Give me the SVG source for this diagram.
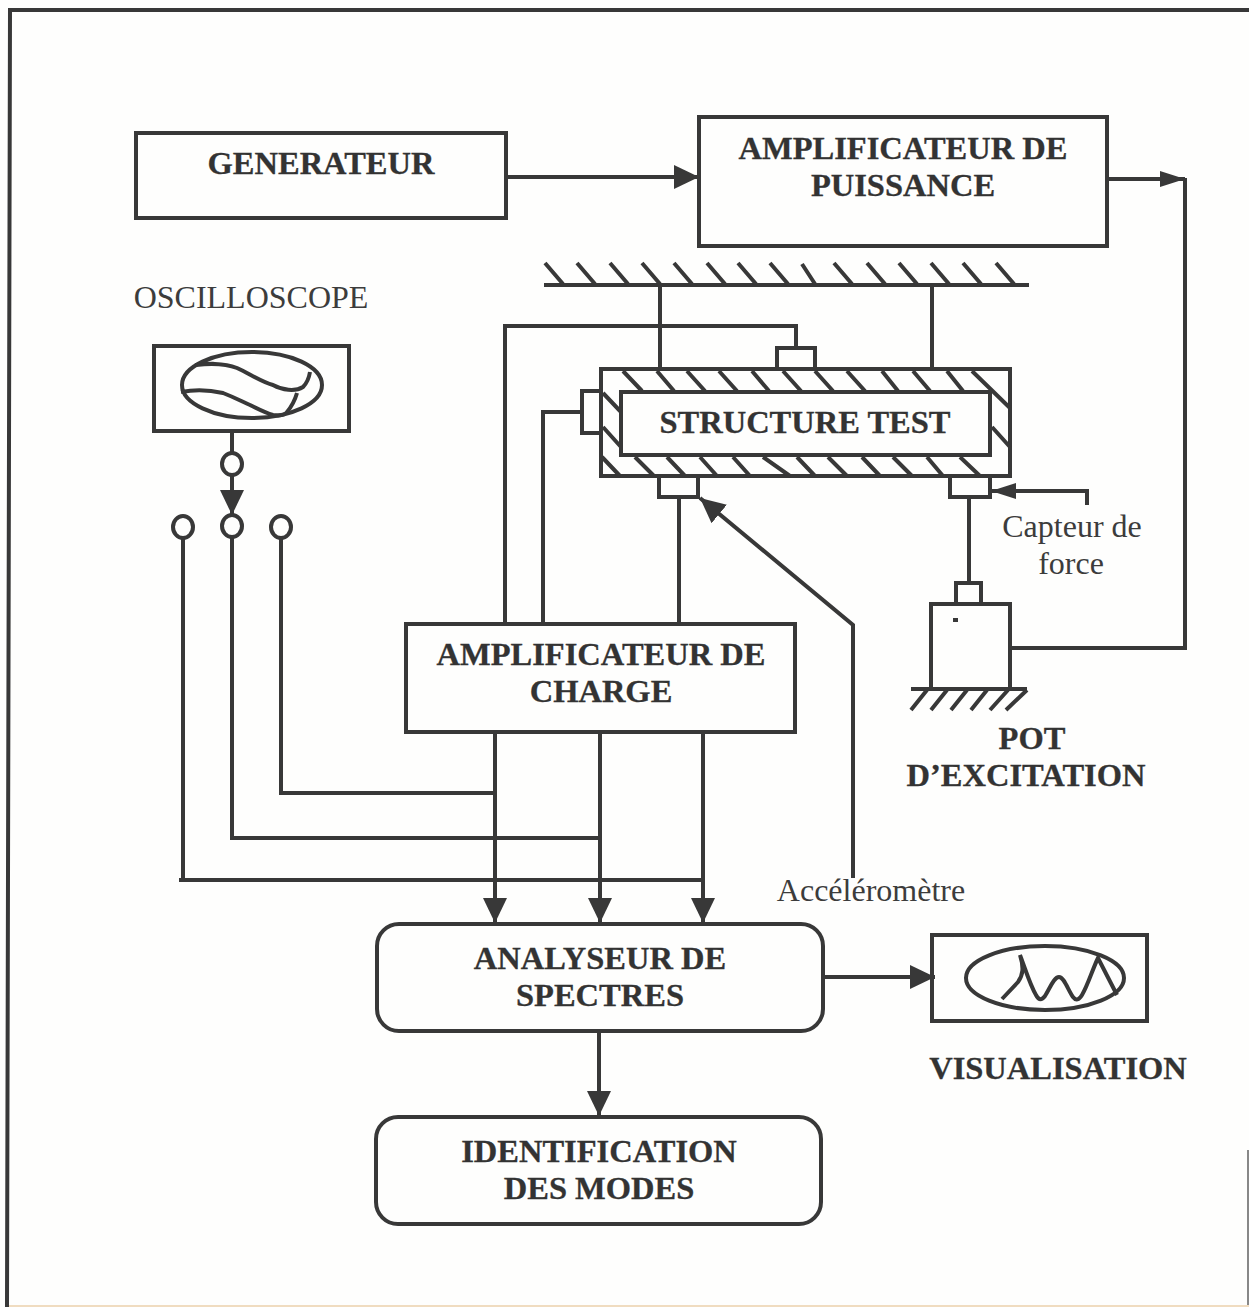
<svg xmlns="http://www.w3.org/2000/svg" width="1249" height="1307" viewBox="0 0 1249 1307">
<defs>
<marker id="arrow" markerUnits="userSpaceOnUse" markerWidth="26" markerHeight="26" refX="25" refY="13" orient="auto"><path d="M0 1L25 13L0 25Z" fill="#383838"/></marker>
<marker id="arrowSmall" markerUnits="userSpaceOnUse" markerWidth="26" markerHeight="20" refX="25" refY="10" orient="auto"><path d="M0 2L25 10L0 18Z" fill="#383838"/></marker>
</defs>
<style>
.b{fill:none;stroke:#383838;stroke-width:4}
.t{font-family:"Liberation Serif",serif;font-weight:bold;font-size:32.5px;fill:#333;stroke:#333;stroke-width:.3;text-anchor:middle}
.l{font-family:"Liberation Serif",serif;font-size:32px;fill:#3c3c3c;text-anchor:middle}
</style>
<rect width="1249" height="1307" fill="#fefefd"/>
<path id="frame" class="b" d="M7 1307L10 10H1249"/>
<path d="M1248 1150V1307" fill="none" stroke="#888" stroke-width="2"/>
<path d="M9 1306H1249" fill="none" stroke="#f0dcc0" stroke-width="2"/>
<g id="connectors">
<path class="b" d="M506 177H699" marker-end="url(#arrow)"/>
<path class="b" d="M1107 179H1185" marker-end="url(#arrowSmall)"/>
<path class="b" d="M1010 648H1185V178"/>
<path class="b" d="M660 285V369M932 285V369"/>
<path class="b" d="M505 624V326H796V348"/>
<path class="b" d="M543 624V412H582"/>
<path class="b" d="M679 624V497"/>
<path class="b" d="M969 497V583"/>
<path class="b" d="M1087 505V491H991" marker-end="url(#arrowSmall)"/>
<path class="b" d="M853 878V625L700 498" marker-end="url(#arrow)"/>
<path class="b" d="M232 431V453"/>
<path class="b" d="M232 474V515" marker-end="url(#arrow)"/>
<path class="b" d="M495 732V923" marker-end="url(#arrow)"/>
<path class="b" d="M600 732V923" marker-end="url(#arrow)"/>
<path class="b" d="M703 732V923" marker-end="url(#arrow)"/>
<path class="b" d="M281 538V793H495"/>
<path class="b" d="M232 537V838H600"/>
<path class="b" d="M183 538V880H703M179 880H183"/>
<path class="b" d="M823 977H935" marker-end="url(#arrow)"/>
<path class="b" d="M599 1031V1116" marker-end="url(#arrow)"/>
</g>
<g id="generateur"><rect class="b" x="136" y="133" width="370" height="85"/><text class="t" x="321" y="174">GENERATEUR</text></g>
<g id="amplificateur-puissance"><rect class="b" x="699" y="117" width="408" height="129"/><text class="t" x="903" y="159">AMPLIFICATEUR DE</text><text class="t" x="903" y="196">PUISSANCE</text></g>
<g id="bati"><path class="b" d="M544 285H1029"/><path class="b" d="M545 263L563 284M577 263L595 284M610 263L628 284M642 263L660 284M674 263L692 284M707 263L725 284M738 263L756 284M770 263L788 284M802 264L815 284M834 263L852 284M867 263L885 284M899 263L917 284M931 263L949 284M963 263L981 284M996 263L1014 284"/></g>
<g id="structure-test">
<rect class="b" x="601" y="369" width="409" height="107"/>
<path class="b" d="M623 371L642 391M657 371L674 391M687 371L705 391M719 371L737 391M752 371L769 391M783 371L801 391M815 371L833 391M847 371L865 391M882 371L898 391M913 371L930 391M947 371L963 391M972 371L1010 408M603 393L621 412M603 427L621 447M992 427L1010 447M602 457L620 476M635 457L654 476M667 457L685 476M700 457L717 476M733 457L750 476M763 457L790 476M797 457L815 476M828 457L847 476M862 457L880 476M893 457L912 476M927 457L943 476M960 457L980 476"/>
<rect class="b" x="621" y="392" width="369" height="63" style="fill:#fefefd"/>
<text class="t" x="805" y="433">STRUCTURE TEST</text>
</g>
<g id="capteur-haut"><path class="b" d="M777 369V348H815V369"/></g>
<g id="capteur-gauche"><path class="b" d="M601 391H582V433H601"/></g>
<g id="capteur-bas"><path class="b" d="M659 476V497H698V476"/></g>
<g id="capteur-force"><path class="b" d="M950 476V497H990V476"/><text class="l" x="1072" y="537">Capteur de</text><text class="l" x="1071" y="574">force</text></g>
<g id="oscilloscope"><text class="l" x="251" y="308">OSCILLOSCOPE</text><rect class="b" x="154" y="346" width="195" height="85"/><ellipse class="b" cx="252" cy="385" rx="70" ry="33"/><path class="b" d="M195 365C205 364 222 362 237 368C250 374 262 382 273 385C282 390 295 392 303 387C307 383 309 378 310 372M181 392C192 390 205 389 223 393C236 398 243 402 250 405C258 409 266 413 273 415C280 416 285 415 287 412C292 406 295 400 297 393"/></g>
<g id="commutateur"><ellipse class="b" cx="232" cy="464" rx="10" ry="11"/><ellipse class="b" cx="232" cy="526" rx="10" ry="11"/><ellipse class="b" cx="183" cy="527" rx="10" ry="11"/><ellipse class="b" cx="281" cy="527" rx="10" ry="11"/></g>
<g id="pot-excitation"><rect class="b" x="931" y="604" width="79" height="85"/><rect class="b" x="956" y="583" width="25" height="21"/><path class="b" d="M911 689H1027M927 690L911 710M947 690L931 710M967 690L951 710M987 690L971 710M1008 690L990 710M1027 690L1006 710M953 620H958"/><text class="t" x="1032" y="749">POT</text><text class="t" x="1026" y="786">D’EXCITATION</text></g>
<g id="amplificateur-charge"><rect class="b" x="406" y="624" width="389" height="108"/><text class="t" x="601" y="665">AMPLIFICATEUR DE</text><text class="t" x="601" y="702">CHARGE</text></g>
<g id="accelerometre"><text class="l" x="871" y="901">Accéléromètre</text></g>
<g id="analyseur"><rect class="b" x="377" y="924" width="446" height="107" rx="22"/><text class="t" x="600" y="969">ANALYSEUR DE</text><text class="t" x="600" y="1006">SPECTRES</text></g>
<g id="visualisation"><rect class="b" x="932" y="935" width="215" height="86"/><ellipse class="b" cx="1045" cy="978" rx="79" ry="32"/><path class="b" d="M1002 999L1018 982C1023 975 1024 968 1020 955C1025 968 1030 985 1036 995C1039 1001 1042 1000 1045 996C1050 988 1054 977 1059 977C1064 977 1068 990 1073 997C1076 1001 1079 1000 1082 995C1088 985 1093 968 1098 958L1117 995"/><text class="t" x="1058" y="1079">VISUALISATION</text></g>
<g id="identification"><rect class="b" x="376" y="1117" width="445" height="107" rx="22"/><text class="t" x="599" y="1162">IDENTIFICATION</text><text class="t" x="599" y="1199">DES MODES</text></g>
</svg>
